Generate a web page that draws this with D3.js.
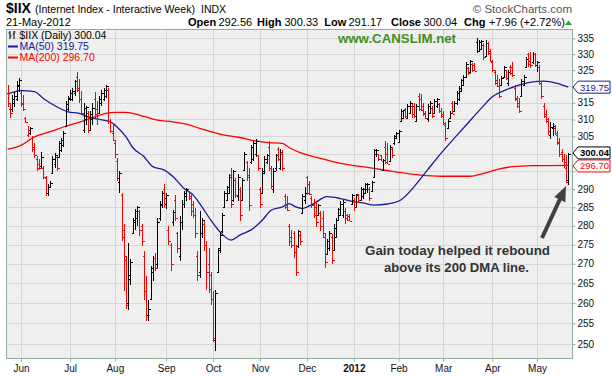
<!DOCTYPE html>
<html>
<head>
<meta charset="utf-8">
<script src="https://cdn.jsdelivr.net/npm/d3@7"></script>
<style>
  body { margin: 0; background: #fff; }
  svg { display: block; font-family: "Liberation Sans", Arial, sans-serif; }
</style>
</head>
<body>
<svg id="chart" width="612" height="376"></svg>
<script>
// daily bars [open, high, low, close], one array per month
const may2011 = [[318,320.4,313.8,315],[313,315,310.5,312],[313,317.5,312.2,316],[315,318.3,313.8,317],[316,321.6,315.4,320.5],[320,322.5,318.3,322]]
const jun2011 = [[318,318.5,313.8,314.5],[315,317.5,312.4,313],[310.5,310.8,309,309.3],[305.5,308.1,304.7,307],[306,307.8,305.3,307.5],
  [304.5,305,300.6,301.5],[302,303,298.7,299.5],[298.5,299.3,295,296],[297,298.4,295.5,295.8],[296.5,300.6,295.8,299],
  [296,296.6,292.7,293.5],[293,293.8,288,289],[289,291.3,288,290.5],[290.6,292.2,290.3,291.8],[294.5,299.3,294.2,298.5],
  [297,300.2,296,299.5],[299,299.3,295.2,296],[299,303.6,298.7,303],[301,304.5,300.6,304],[302.5,306.6,301.8,306],
  [308,315.4,307.8,314.5],[313,317.1,312.4,316.5]]
const jul2011 = [[316,318.8,315.4,318],[316,319.5,315.4,318.5],[318,322,317,321.5],[323,324.3,318.3,319.5],[319,322.2,315,316],
  [316,318.5,311.5,312],[307,315,306,313.5],[310,314,308.5,313.8],[312,312.5,305.9,307],[307,312.4,306.6,311.5],
  [310,315,308.5,313.5],[316,318.3,310.5,311.5],[313,315.4,308.5,310],[312,317.1,311.5,316],[315,318.8,314.1,318],
  [316,319.4,315.4,318.8],[317,320.5,316.4,320],[319,319.5,308.7,309.5],[309.5,310.2,305.9,306.5],[306,308.4,303.6,304]]
const aug2011 = [[303,303.6,298.7,300],[298,298.7,292.2,293],[292,295,289,294.5],[288.5,289,276,277],[279,280.5,263,272],
  [271,272,258.5,259.5],[260,275.5,258.2,267],[266,271.3,264.6,270.5],[278,282.1,277.7,281.5],[281,284.5,279,284],
  [282,285.4,280,285],[284,284.3,277.3,279],[280,280.5,274.7,276],[272,273.4,260.7,263],[263,266.9,255.5,257],
  [257,260.7,255.5,258.5],[261,269.5,260.7,269],[268,272.1,265.7,271.5],[271.5,272.9,268.2,269],[270,282,269,281],
  [282,286.7,281.3,286],[285.5,289.4,284.8,288.8],[290,291.3,284.8,287.5]]
const sep2011 = [[286,288.9,284.5,288.4],[279,280,275,276],[275,275.5,268.2,270],[281,284.3,280,283.8],[287,288.4,281.3,282],
  [278,278.3,272.9,274],[272,282.6,270.8,281],[281,287,279,286],[286,289.4,284.8,289],[288,290.3,286.7,290],
  [289.5,289.6,286.9,287.5],[288,288.9,282.7,284],[286,286.7,282.1,283],[283,284.8,276.8,278],[272,273.4,265.7,267],
  [268,284,266.4,278],[278,282.1,276.8,281.5],[280.5,281.3,273.4,275],[275,276,263.2,268],[270,274,262.5,263.5],
  [267,268,259.5,261]]
const oct2011 = [[261,263,250.5,251.5],[251,263.3,248.4,262.5],[268,274,267.5,273.5],[274,278.3,272.9,277.5],[278.5,283.5,278,283],
  [285,289.4,284.8,289],[287,290.8,286.7,290.5],[289,294.2,288.7,293.5],[294,295.8,284.8,286],[287,295.5,286.5,295],
  [292.5,293,287.5,288.5],[288,294.2,286.7,293.5],[290,290.5,281.3,283],[287,293,286.7,292.5],[295.5,300.6,295,300],
  [297.5,297.8,292.2,293.5],[294,295.8,284,285.5],[297.5,302.6,297,302],[298.5,303.6,297.8,303],[300,304.2,299.2,303.8],
  [299.5,299.7,295,296]]
const nov2011 = [[290,290.5,284.8,286],[289,295.8,288.7,294.5],[295,299.3,294.2,298.5],[297.5,299.9,297,299.5],[302,303.6,295,296],
  [296,296.6,290,291],[290,295.8,289,295],[296,299.9,295,299.5],[301.5,302,297.8,298.5],[296,301.5,295.5,300.5],
  [300,301,295,296],[288,288.7,284.5,285],[285.5,288,284,284.3],[280,280.4,274.7,276],[277,279,274.1,275],
  [278,278.6,271.6,273],[273,275,266.9,268],[274.5,279,274,278.5],[277.5,278.5,275,276],[283.5,288.7,283.2,288],
  [287,290.5,285.9,289]]
const dec2011 = [[293.5,293.8,288.5,288.8],[291.5,292.2,288.4,288.6],[287.5,288,284.8,285.5],[286,287.4,282.1,283],[285,286.7,279.7,281],
  [283,285.9,282.6,285.5],[283.5,284,278.6,280],[282,284,276.8,278],[277,277.7,269,270.5],[272.5,276.6,272.4,276],
  [274,278.6,273.4,278.2],[277,277.7,270,271],[273.5,280.4,273.4,279.5],[277,282.1,276.8,281.5],[281.5,284.8,281.3,284.5],
  [283,286.7,282.6,286],[283,286.9,282.1,286.5],[284,284.8,280.5,282],[283,283.2,281.3,281.5],[282.5,283.2,281.3,281.4],
  [286,288.7,285.9,288.5]]
const jan2012 = [[287,287.5,284,285],[285,288.7,284.8,288.4],[288.6,288.7,286.2,287],[287,290.5,286.7,290],[288,290.3,287.3,290.1],
  [289,291.6,288.7,291.3],[290,291.6,289,291.5],[290,290.5,286.7,287.5],[289.5,292.2,289.4,292],[293.5,301.5,293.3,301],
  [300,301.5,299.1,301.2],[299.8,300,297.8,298.5],[299.5,299.7,297.8,298],[295.5,298.5,295,298.2],[302,303.6,297,297.5],
  [300,303,297,297.2],[298,302.6,297.8,302],[301.5,302,298.7,299.5],[303,305.3,302.6,305],[304.5,306.2,304.2,306]]
const feb2012 = [[303.5,307,303,306.5],[309.5,313,309.3,312.5],[310.5,312.8,310,312.7],[313,313.3,310.3,311],[310.5,314.5,310.3,314],
  [312,315.4,311.8,315],[314,314.5,310.3,311.5],[314,314.8,310.3,311],[309.5,314.5,309.3,314],[317,318,312.4,313],
  [316,317.8,312.5,312.8],[314,314.8,310.9,311.5],[312,312.4,310,310.5],[310,314.5,309.3,314],[312,315.4,311.5,315],
  [313.5,314,310.3,311],[312,316,311.8,315.5],[314,316.4,313.3,316],[314.5,314.8,311.8,312.5],[312.5,313.3,310.3,311]]
const mar2012 = [[311.5,312.4,308.4,309],[308.5,309.3,303.6,304.5],[307.5,310,307.2,309.5],[310.5,312.4,310,312],[315,315.4,311.5,311.6],
  [312.5,315.4,312.4,315],[315,318.5,314.4,318],[316,320,315.4,319.5],[318.5,322.2,318.3,322],[320.5,323.5,320.1,323],
  [323,327.4,322.8,327],[325.8,325.9,323.5,324],[324.5,328.1,324.3,327.8],[327,327.2,324.3,325],[326.5,327.2,324.6,324.8],
  [334,335,330.4,331],[331,334.5,330.7,334],[331.5,334.5,331.3,334.2],[333,333.6,328.1,329],[329.5,334.5,329.1,333.5],
  [333.5,333.9,329.7,330.5],[331,331.5,327.5,328]]
const apr2012 = [[327.5,328.1,324.3,325],[324.5,325,320.4,321],[322,323.5,319.8,320.2],[320,322.2,316.4,317],[320.5,323.1,320.1,322.5],
  [323,326.3,322.8,326],[325,325,321.9,322.5],[321,325,320.1,324.5],[326,326.6,323.5,324.2],[326,327.4,322.8,323.5],
  [319.5,320.4,315.4,316],[316.5,317.1,313.5,314],[315,316.4,312,312.5],[317,322.2,316.7,321.5],[320.5,323.5,320.1,323],
  [326,329.1,325.9,328.5],[330,330.4,325.9,327],[328,330.7,325.6,326.5],[327.5,330.7,327,330],[330,330.4,326,326.5]]
const may2012 = [[326.5,328,324.5,327.5],[326,326.5,320.5,321.5],[321,321.5,316,317],[314,314.8,310.3,311],[311.5,312.8,309,310],
  [309.5,310.5,305.5,306.5],[305.5,309.3,304.2,307.8],[307.5,309,305,308.2],[307.5,308.5,305.5,306],[305.5,306.5,302.5,303],
  [303.5,304.5,299,299.8],[300.5,301.5,297.5,298.5],[298.5,299.8,295.8,296],[297.5,299.5,291.6,292.08],[292.56,300.33,291.17,300.04]]

const monthBars = [may2011, jun2011, jul2011, aug2011, sep2011, oct2011, nov2011, dec2011, jan2012, feb2012, mar2012, apr2012, may2012]
const monthLabels = ["", "Jun", "Jul", "Aug", "Sep", "Oct", "Nov", "Dec", "2012", "Feb", "Mar", "Apr", "May"]

// moving averages (bar index, value)
const ma50Idx = [0,6,12,16,22,27,32,37,41,46,49,53,56,61,65,70,74,79,83,86,91,95,100,104,109,114,118,123,126,129,132,137,143,149,155,159,164,170,176,182,188,194,200,206,212,217,223,229,235,240,246,251]
const ma50Val = [317.6,318.7,318.4,316.3,313.8,312.3,311.8,310.6,310.0,309.3,307.8,304.9,301.8,299.2,296.3,295.4,293.5,290.2,288.4,286.0,281.5,278.4,276.2,277.5,278.9,281.5,284.2,285.1,286.0,285.1,284.7,286.0,287.9,287.4,286.5,286.2,285.6,285.9,287.0,290.7,295.4,300.1,304.5,308.9,313.3,316.8,318.9,320.4,321.4,321.6,320.9,319.75]
const ma200Idx = [0,6,12,19,26,34,40,44,48,53,59,67,74,80,86,95,104,111,117,123,126,131,138,146,153,161,167,173,185,194,207,213,219,226,235,251]
const ma200Val = [301.3,302.4,304.9,306.4,308.0,309.6,311.0,311.8,312.1,312.1,311.3,309.8,309.3,308.6,307.4,305.7,304.7,303.7,303.2,303.0,301.8,300.3,299.0,297.7,296.8,296.1,295.5,294.9,293.9,293.6,293.6,294.4,295.5,296.3,296.6,296.70]

const priceTicks = d3.range(250, 336, 5)

// flatten bars
let bars = [], monthStart = []
monthBars.forEach(m => {
    monthStart.push(bars.length)
    m.forEach(d => bars.push({o: d[0], h: d[1], l: d[2], c: d[3]}))
})
bars.forEach((b, i) => {
    b.i = i
    let prev = i ? bars[i - 1].c : b.o
    b.up = b.c >= prev
})

const W = 612, H = 376
const plot = {left: 6, right: 572, top: 29, bottom: 358}
const svg = d3.select('#chart')

const x = d3.scaleLinear().domain([0, bars.length - 1]).range([7.6, 568.3])
const y = d3.scaleLog().domain([246.7, 338.06]).range([plot.bottom, plot.top])

svg.append('rect').attr('width', W).attr('height', H).attr('fill', '#fff')
svg.append('rect')
    .attr('x', plot.left).attr('y', plot.top)
    .attr('width', plot.right - plot.left).attr('height', plot.bottom - plot.top)
    .attr('fill', '#efefef')

svg.append('defs').append('clipPath').attr('id', 'clip')
    .append('rect').attr('x', plot.left).attr('y', plot.top)
    .attr('width', plot.right - plot.left).attr('height', plot.bottom - plot.top)

// grid
const grid = svg.append('g').attr('stroke', '#d6d6d6').attr('shape-rendering', 'crispEdges')
grid.selectAll('.hg').data(priceTicks).join('line')
    .attr('x1', plot.left).attr('x2', plot.right)
    .attr('y1', d => Math.round(y(d)) + 0.5).attr('y2', d => Math.round(y(d)) + 0.5)
const monthTicks = monthStart.slice(1)
grid.selectAll('.vg').data(monthTicks).join('line')
    .attr('x1', d => Math.round(x(d)) + 0.5).attr('x2', d => Math.round(x(d)) + 0.5)
    .attr('y1', plot.top).attr('y2', plot.bottom)

// MA lines
const g = svg.append('g').attr('clip-path', 'url(#clip)')
const maLine = d3.line().x(d => x(d[0])).y(d => y(d[1])).curve(d3.curveMonotoneX)
g.append('path').datum(d3.zip(ma200Idx, ma200Val))
    .attr('d', maLine).attr('fill', 'none').attr('stroke', '#ff0000').attr('stroke-width', 1.3)
g.append('path').datum(d3.zip(ma50Idx, ma50Val))
    .attr('d', maLine).attr('fill', 'none').attr('stroke', '#1a1a96').attr('stroke-width', 1.3)

// OHLC bars
const bar = g.append('g').selectAll('g').data(bars).join('g')
    .attr('stroke', d => d.up ? '#000' : '#ff0000')
    .attr('stroke-width', 1)
    .attr('shape-rendering', 'crispEdges')
bar.append('line')
    .attr('x1', d => Math.round(x(d.i)) + 0.5).attr('x2', d => Math.round(x(d.i)) + 0.5)
    .attr('y1', d => y(d.h)).attr('y2', d => y(d.l))
bar.append('line')
    .attr('x1', d => Math.round(x(d.i)) - 1.5).attr('x2', d => Math.round(x(d.i)) + 0.5)
    .attr('y1', d => Math.round(y(d.o)) + 0.5).attr('y2', d => Math.round(y(d.o)) + 0.5)
bar.append('line')
    .attr('x1', d => Math.round(x(d.i)) + 0.5).attr('x2', d => Math.round(x(d.i)) + 2.5)
    .attr('y1', d => Math.round(y(d.c)) + 0.5).attr('y2', d => Math.round(y(d.c)) + 0.5)

// frame
svg.append('rect')
    .attr('x', plot.left + 0.5).attr('y', plot.top + 0.5)
    .attr('width', plot.right - plot.left).attr('height', plot.bottom - plot.top)
    .attr('fill', 'none').attr('stroke', '#8fae9f')

// value boxes on the right
const last = bars[bars.length - 1]
let boxes = [
    {v: ma50Val[ma50Val.length - 1], color: '#1a1a96', bold: false},
    {v: last.c, color: '#000', bold: true},
    {v: ma200Val[ma200Val.length - 1], color: '#ff0000', bold: false}
]
boxes.forEach(b => b.yc = y(b.v))
boxes.sort((a, b) => a.yc - b.yc)
for (let k = 1; k < boxes.length; k++) {
    let gap = boxes[k].yc - boxes[k - 1].yc
    if (gap < 13) {
        let push = (13 - gap) / 2
        boxes[k - 1].yc -= push
        boxes[k].yc += push
    }
}

// right axis
const yAxis = svg.append('g')
    .attr('transform', `translate(${plot.right + 0.5},0)`)
    .call(d3.axisRight(y).tickValues(priceTicks).tickFormat(d3.format('d')).tickSize(3).tickPadding(2))
yAxis.select('.domain').remove()
yAxis.selectAll('line').attr('stroke', '#8fae9f')
yAxis.selectAll('text')
    .attr('font-size', 10).attr('fill', '#111')
    .style('font-family', '"Liberation Sans", Arial, sans-serif')
    .attr('display', d => boxes.some(b => Math.abs(y(d) - b.yc) < 10) ? 'none' : null)

const box = svg.append('g').selectAll('g').data(boxes).join('g')
box.append('path')
    .attr('d', d => `M${plot.right + 1},${d.yc} L${plot.right + 6},${d.yc - 6} L${W - 2},${d.yc - 6} L${W - 2},${d.yc + 6} L${plot.right + 6},${d.yc + 6} Z`)
    .attr('fill', '#fff').attr('stroke', d => d.color)
box.append('text')
    .attr('x', plot.right + 8).attr('y', d => d.yc + 3.5)
    .attr('font-size', 9.5).attr('font-weight', d => d.bold ? 'bold' : null)
    .attr('fill', d => d.color)
    .text(d => d.v.toFixed(2))

// bottom axis
const xAxis = svg.append('g')
    .attr('transform', `translate(0,${plot.bottom + 0.5})`)
    .call(d3.axisBottom(x).tickValues(monthTicks).tickSize(3).tickPadding(3)
        .tickFormat((d, k) => monthLabels[k + 1]))
xAxis.select('.domain').remove()
xAxis.selectAll('line').attr('stroke', '#8fae9f')
xAxis.selectAll('text')
    .attr('font-size', 10).attr('fill', '#111')
    .style('font-family', '"Liberation Sans", Arial, sans-serif')
    .attr('font-weight', (d, k) => monthLabels[k + 1] === '2012' ? 'bold' : null)

// header
const head = svg.append('g').attr('fill', '#000')
head.append('text').attr('x', 6).attr('y', 13).attr('font-size', 14).attr('font-weight', 'bold').text('$IIX')
head.append('text').attr('x', 35).attr('y', 13).attr('font-size', 10.6)
    .text('(Internet Index - Interactive Week)')
head.append('text').attr('x', 201).attr('y', 13).attr('font-size', 10.5).text('INDX')
head.append('text').attr('x', 6).attr('y', 26).attr('font-size', 11).text('21-May-2012')
head.append('text').attr('x', 572).attr('y', 12.5).attr('font-size', 11.5).attr('text-anchor', 'end')
    .attr('fill', '#555').text('© StockCharts.com')

const quote = [
    ['Open', 188, true], ['292.56', 218.5, false], ['High', 257, true], ['300.33', 284.5, false],
    ['Low', 324.3, true], ['291.17', 348.5, false], ['Close', 391, true], ['300.04', 423.5, false],
    ['Chg', 464, true], ['+7.96 (+2.72%)', 489, false]
]
head.append('g').selectAll('text').data(quote).join('text')
    .attr('x', d => d[1]).attr('y', 26).attr('font-size', 11)
    .attr('font-weight', d => d[2] ? 'bold' : null)
    .text(d => d[0])
head.append('path').attr('d', 'M565,25 L568.5,20.5 L572,25 Z').attr('fill', '#22aa22')

// legend inside plot
const leg = svg.append('g').attr('font-size', 10.5)
leg.append('path').attr('d', 'M10,31 V39 M8.5,33 H10 M10,36 H11.5 M14,31 V39 M12.5,34 H14 M14,32 H15.5')
    .attr('stroke', '#000').attr('fill', 'none')
leg.append('text').attr('x', 19.5).attr('y', 38.5).attr('fill', '#000').text('$IIX (Daily) 300.04')
leg.append('line').attr('x1', 8).attr('x2', 18).attr('y1', 46.5).attr('y2', 46.5).attr('stroke', '#1a1a96').attr('stroke-width', 2)
leg.append('text').attr('x', 19.5).attr('y', 50).attr('fill', '#1a1a96').text('MA(50) 319.75')
leg.append('line').attr('x1', 8).attr('x2', 18).attr('y1', 57.5).attr('y2', 57.5).attr('stroke', '#ff0000').attr('stroke-width', 2)
leg.append('text').attr('x', 19.5).attr('y', 61).attr('fill', '#ff0000').text('MA(200) 296.70')

svg.append('text').attr('x', 338).attr('y', 43).attr('font-size', 13.5).attr('font-weight', 'bold')
    .attr('fill', '#3f8f23').attr('textLength', 118).attr('lengthAdjust', 'spacingAndGlyphs')
    .text('www.CANSLIM.net')

// annotation
const note = svg.append('g').attr('fill', '#333').attr('font-size', 13.5).attr('font-weight', 'bold')
note.append('text').attr('x', 365).attr('y', 255).attr('textLength', 185).attr('lengthAdjust', 'spacingAndGlyphs')
    .text('Gain today helped it rebound')
note.append('text').attr('x', 384).attr('y', 272).attr('textLength', 145).attr('lengthAdjust', 'spacingAndGlyphs')
    .text('above its 200 DMA line.')
svg.append('line').attr('x1', 542).attr('y1', 238).attr('x2', 560).attr('y2', 199)
    .attr('stroke', '#404040').attr('stroke-width', 4)
svg.append('path').attr('d', 'M566,186 L565.3,202.3 L554.3,197.1 Z').attr('fill', '#404040')
</script>
</body>
</html>
